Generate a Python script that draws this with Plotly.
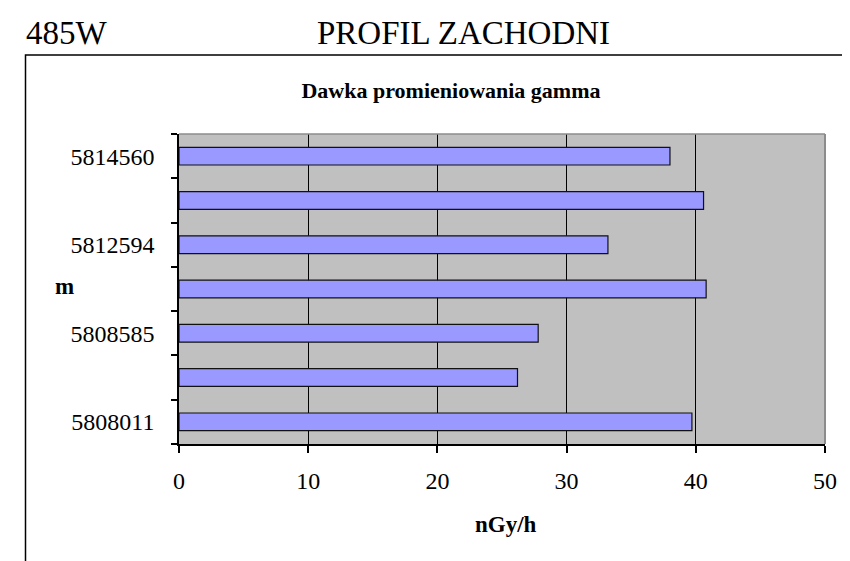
import plotly.graph_objects as go

# ---- data (bottom to top) ----
categories = ["5808011", "", "5808585", "", "5812594", "", "5814560"]
dose_values = [39.7, 26.2, 27.8, 40.8, 33.2, 40.6, 38.0]
x_ticks = [0, 10, 20, 30, 40, 50]

chart_title = "Dawka promieniowania gamma"
x_title = "nGy/h"
y_title = "m"
left_label = "485W"
main_title = "PROFIL ZACHODNI"

# ---- layout geometry (pixels) ----
W, H = 850, 561
L, R, T, B = 171, 33, 126, 125
PW, PH = W - L - R, H - T - B

def px_x(px):
    return (px - L) / PW

def px_y(py):
    return (H - B - py) / PH

FONT = "Liberation Serif, Times New Roman, serif"
n = len(categories)
ypos = list(range(n))

fig = go.Figure()
fig.add_trace(go.Bar(
    x=dose_values,
    y=ypos,
    orientation="h",
    marker=dict(color="#9999FF", line=dict(color="#111111", width=1.2)),
    width=0.4,
    hoverinfo="x",
))

fig.update_layout(
    width=W, height=H, autosize=False,
    margin=dict(l=L, r=R, t=T, b=B, pad=0),
    paper_bgcolor="white",
    plot_bgcolor="#C0C0C0",
    showlegend=False,
    font=dict(family=FONT, color="black", size=24),
    title=dict(text=chart_title, x=443 / W, xanchor="center",
               y=1 - 82 / H, yanchor="middle", yref="container",
               font=dict(family=FONT, size=22, weight="bold", color="black")),
)

fig.update_xaxes(
    range=[0, 50],
    tickvals=x_ticks,
    ticks="outside", ticklen=7, tickwidth=1.5, tickcolor="black",
    showgrid=True, gridcolor="black", gridwidth=1.3,
    showline=True, linecolor="black", linewidth=1.5,
    zeroline=False,
    tickfont=dict(family=FONT, size=24),
    ticklabelstandoff=7,
)

fig.update_yaxes(
    range=[-0.5, n - 0.5],
    tickvals=[i for i, c in enumerate(categories) if c],
    ticktext=[c for c in categories if c],
    ticks="",
    minor=dict(tickvals=[i - 0.5 for i in range(n + 1)], ticks="outside",
               ticklen=6, tickwidth=1.5, tickcolor="black", showgrid=False),
    showgrid=False,
    showline=True, linecolor="black", linewidth=1.5,
    zeroline=False,
    tickfont=dict(family=FONT, size=24),
    ticklabelstandoff=18,
)

# plot-area border (top and right in gray)
fig.add_shape(type="line", xref="paper", yref="paper", x0=0, x1=1, y0=1, y1=1,
              line=dict(color="#8C8C8C", width=1.5), layer="above")
fig.add_shape(type="line", xref="paper", yref="paper", x0=1, x1=1, y0=0, y1=1,
              line=dict(color="#8C8C8C", width=2), layer="above")

# outer chart frame
fig.add_shape(type="rect", xref="paper", yref="paper",
              x0=px_x(17.5), x1=px_x(W + 10), y0=px_y(47), y1=px_y(H + 10),
              line=dict(color="black", width=1.5), fillcolor="rgba(0,0,0,0)",
              layer="below")

fig.add_annotation(text=left_label, xref="paper", yref="paper",
                   x=px_x(16), y=px_y(25), xanchor="left", yanchor="middle",
                   showarrow=False, font=dict(family=FONT, size=33))
fig.add_annotation(text=main_title, xref="paper", yref="paper",
                   x=px_x(455), y=px_y(25), xanchor="center", yanchor="middle",
                   showarrow=False, font=dict(family=FONT, size=33))
fig.add_annotation(text=y_title, xref="paper", yref="paper",
                   x=px_x(56), y=px_y(278), xanchor="center", yanchor="middle",
                   showarrow=False, font=dict(family=FONT, size=23, weight="bold"))
fig.add_annotation(text=x_title, xref="paper", yref="paper",
                   x=px_x(498), y=px_y(516), xanchor="center", yanchor="middle",
                   showarrow=False, font=dict(family=FONT, size=23, weight="bold"))

fig.write_html("out.html")
